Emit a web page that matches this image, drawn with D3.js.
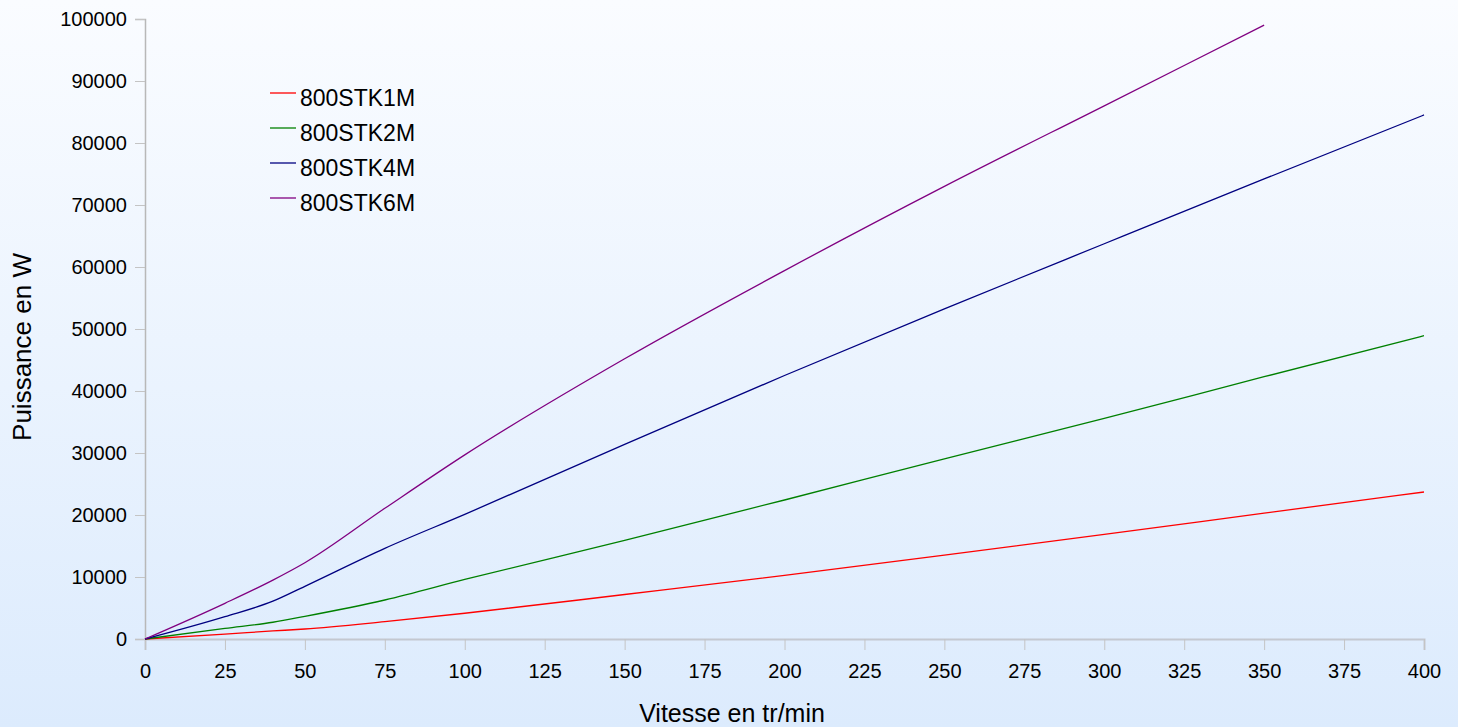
<!DOCTYPE html>
<html>
<head>
<meta charset="utf-8">
<script src="https://cdn.jsdelivr.net/npm/d3@7"></script>
<style>
  html, body { margin: 0; padding: 0; }
  body { width: 1458px; height: 727px; overflow: hidden; }
  text { font-family: "Liberation Sans", Arial, sans-serif; fill: #000; }
</style>
</head>
<body>
<div id="chart"></div>
<script>
// données
const vitesse = [0, 25, 40, 50, 75, 100, 150, 200, 250, 300, 350, 400];
const stk1m = [0, 800, 1300, 1610, 2800, 4150, 7180, 10260, 13520, 16870, 20300, 23710];
const stk2m = [0, 1720, 2700, 3650, 6290, 9600, 15900, 22420, 29060, 35570, 42300, 48920];
const stk4m = [0, 3600, 6100, 8500, 14620, 20100, 31400, 42500, 53250, 63750, 74200, 84520];
const stk6m = [0, 5760, 9500, 12300, 21080, 29700, 45200, 59420, 73000, 86000, 99000, null];

const seriesNames = ["800STK1M", "800STK2M", "800STK4M", "800STK6M"];
const seriesValues = [stk1m, stk2m, stk4m, stk6m];
const colors = ["#ff0000", "#008000", "#000080", "#800080"];

const xTicks = d3.range(0, 401, 25);
const yTicks = d3.range(0, 100001, 10000);

const W = 1458, H = 727;
const margin = {top: 19, right: 34, bottom: 88, left: 145};

const svg = d3.select("#chart")
    .append("svg")
    .attr("width", W)
    .attr("height", H);

// fond dégradé
const grad = svg.append("defs").append("linearGradient")
    .attr("id", "bg")
    .attr("x1", 0).attr("y1", 0).attr("x2", 0).attr("y2", 1);
grad.append("stop").attr("offset", "0%").attr("stop-color", "#fafcff");
grad.append("stop").attr("offset", "100%").attr("stop-color", "#dcebfd");

svg.append("rect")
    .attr("width", W)
    .attr("height", H)
    .attr("fill", "url(#bg)");

const x = d3.scaleLinear()
    .domain([0, 400])
    .range([margin.left, W - margin.right]);

const y = d3.scaleLinear()
    .domain([0, 100000])
    .range([H - margin.bottom, margin.top]);

// axe y
const yAxis = svg.append("g")
    .attr("transform", `translate(${margin.left},0)`)
    .call(d3.axisLeft(y).tickValues(yTicks).tickSize(10).tickPadding(8).tickFormat(d3.format("d")));
yAxis.select(".domain").attr("stroke", "#b8b8b8").attr("stroke-width", 1.5);
yAxis.selectAll(".tick line").attr("stroke", "#c4c4c4");
yAxis.selectAll(".tick text")
    .style("font-family", "'Liberation Sans', Arial, sans-serif")
    .style("font-size", "20px")
    .attr("fill", "#000");

// axe x
const xAxis = svg.append("g")
    .attr("transform", `translate(0,${y(0)})`)
    .call(d3.axisBottom(x).tickValues(xTicks).tickSize(11).tickPadding(14));
xAxis.select(".domain").attr("stroke", "#c4c8d0").attr("stroke-width", 2);
xAxis.selectAll(".tick line").attr("stroke", "#c4c4c4");
xAxis.selectAll(".tick text")
    .style("font-family", "'Liberation Sans', Arial, sans-serif")
    .style("font-size", "20px")
    .attr("fill", "#000");

// courbes
const line = d3.line()
    .defined(d => d[1] !== null)
    .curve(d3.curveMonotoneX)
    .x(d => x(d[0]))
    .y(d => y(d[1]));

seriesValues.forEach((vals, i) => {
    svg.append("path")
        .datum(vitesse.map((v, j) => [v, vals[j]]))
        .attr("fill", "none")
        .attr("stroke", colors[i])
        .attr("stroke-width", 1.3)
        .attr("d", line);
});

// légende
const legend = svg.selectAll(".legend")
    .data(seriesNames)
    .enter()
    .append("g")
    .attr("class", "legend")
    .attr("transform", (d, i) => `translate(270,${93 + i * 35})`);

legend.append("line")
    .attr("x1", 0)
    .attr("x2", 26)
    .attr("stroke", (d, i) => colors[i])
    .attr("stroke-width", 1.3);

legend.append("text")
    .attr("x", 30)
    .attr("y", 12.5)
    .style("font-size", "23px")
    .text(d => d);

// titres des axes
svg.append("text")
    .attr("text-anchor", "middle")
    .attr("x", 732)
    .attr("y", 722)
    .style("font-size", "25px")
    .text("Vitesse en tr/min");

svg.append("text")
    .attr("text-anchor", "middle")
    .attr("transform", "translate(31,347) rotate(-90)")
    .style("font-size", "26px")
    .text("Puissance en W");
</script>
</body>
</html>
